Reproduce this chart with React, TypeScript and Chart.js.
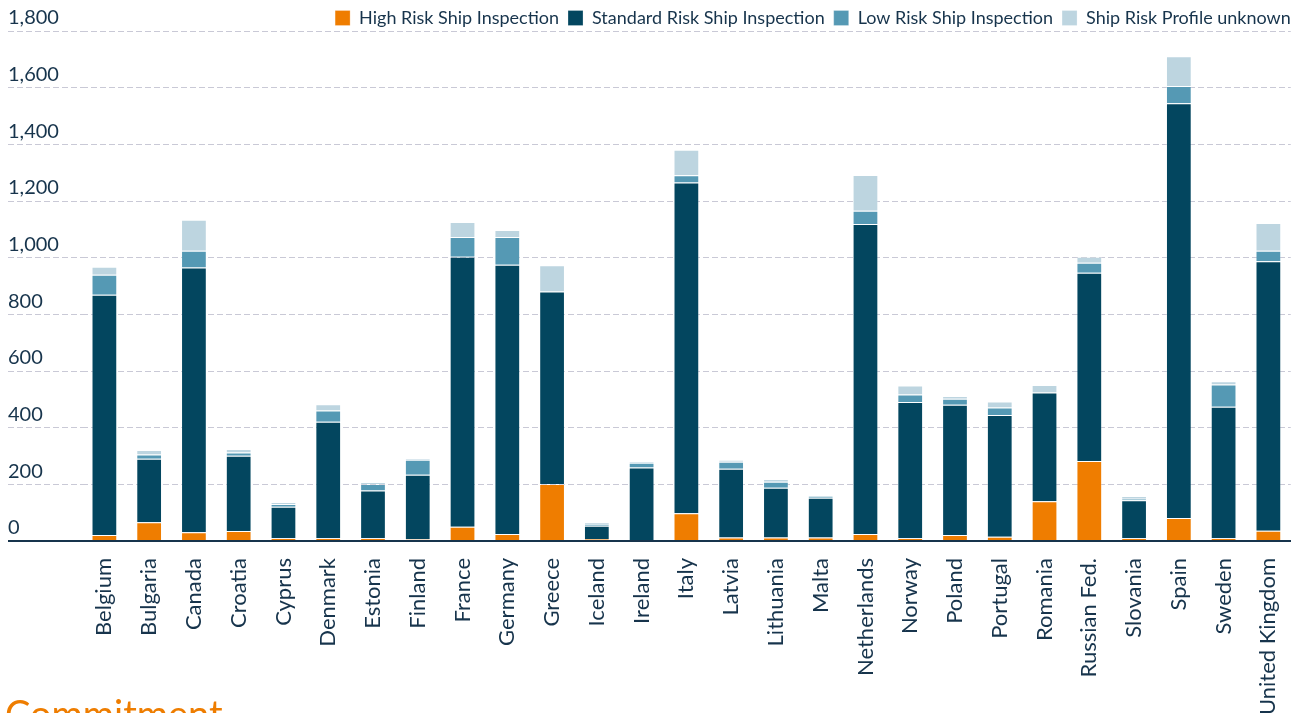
import React, { useEffect, useRef } from "react";
import { Chart, registerables } from "chart.js";

Chart.register(...registerables);

const categories = [
  "Belgium", "Bulgaria", "Canada", "Croatia", "Cyprus", "Denmark", "Estonia", "Finland",
  "France", "Germany", "Greece", "Iceland", "Ireland", "Italy", "Latvia", "Lithuania",
  "Malta", "Netherlands", "Norway", "Poland", "Portugal", "Romania", "Russian Fed.",
  "Slovania", "Spain", "Sweden", "United Kingdom",
];

const highRisk = [21, 66, 31, 35, 10, 10, 10, 6, 50, 25, 201, 7, 0, 98, 12, 12, 12, 25, 10, 21, 15, 140, 282, 10, 81, 10, 36];
const standardRisk = [848, 224, 934, 266, 111, 411, 168, 228, 953, 950, 680, 47, 259, 1167, 243, 176, 141, 1094, 481, 460, 430, 384, 665, 134, 1464, 464, 951];
const lowRisk = [71, 15, 59, 11, 10, 40, 23, 53, 70, 98, 0, 6, 17, 26, 25, 21, 6, 47, 26, 21, 26, 0, 35, 5, 61, 78, 37];
const unknownRisk = [28, 16, 110, 13, 7, 22, 7, 5, 53, 25, 92, 6, 5, 90, 6, 10, 0, 126, 32, 10, 21, 27, 21, 10, 105, 12, 98];

const seriesNames = [
  "High Risk Ship Inspection",
  "Standard Risk Ship Inspection",
  "Low Risk Ship Inspection",
  "Ship Risk Profile unknown",
];
const seriesColors = ["#EF7D00", "#03465F", "#5599B4", "#BDD5E0"];

const yMin = 0;
const yMax = 1800;
const yStep = 200;

const TEXT_DARK = "#17344C";
const GRID = "#C9C9D6";
const LEGEND_HEIGHT = 31;
const LEGEND_ITEM_TOP = 9;

const legendFix = {
  id: "legendFix",
  beforeInit(chart: any) {
    const legend = chart.legend;
    if (!legend) return;
    const fit = legend.fit;
    legend.fit = function () {
      fit.call(this);
      this.height = LEGEND_HEIGHT;
    };
  },
  afterLayout(chart: any) {
    const legend = chart.legend;
    if (!legend) return;
    const p = legend.options.labels.padding;
    legend.top = LEGEND_ITEM_TOP - p;
    legend.right = chart.chartArea.right + p;
  },
};

export default function App() {
  const ref = useRef<HTMLCanvasElement | null>(null);

  useEffect(() => {
    if (!ref.current) return;
    const data = [highRisk, standardRisk, lowRisk, unknownRisk];
    const chart = new Chart(ref.current, {
      type: "bar",
      data: {
        labels: categories,
        datasets: data.map((d, i) => ({
          label: seriesNames[i],
          data: d,
          backgroundColor: seriesColors[i],
          borderColor: "rgba(255,255,255,0.25)",
          borderWidth: 1,
          barPercentage: 0.575,
          categoryPercentage: 1,
        })),
      },
      options: {
        responsive: false,
        animation: false,
        layout: { padding: { left: 8, right: 12, top: 0, bottom: 0 } },
        plugins: {
          tooltip: { enabled: false },
          legend: {
            display: true,
            position: "top",
            align: "end",
            labels: {
              boxWidth: 15,
              boxHeight: 15,
              padding: 9,
              color: TEXT_DARK,
              font: { family: "Lato", size: 18 },
            },
          },
        },
        scales: {
          x: {
            stacked: true,
            grid: { display: false },
            border: { display: true, color: TEXT_DARK, width: 2 },
            ticks: {
              color: TEXT_DARK,
              font: { family: "Lato", size: 22 },
              minRotation: 90,
              maxRotation: 90,
              autoSkip: false,
              padding: 9,
            },
            afterFit(scale: any) {
              scale.height = 172;
            },
          },
          y: {
            stacked: true,
            min: yMin,
            max: yMax,
            border: {
              display: false,
              dash: (ctx: any) => (ctx.tick && ctx.tick.value === 0 ? [] : [6, 3]),
            },
            grid: {
              color: (ctx: any) => (ctx.tick && ctx.tick.value === 0 ? TEXT_DARK : GRID),
              lineWidth: (ctx: any) => (ctx.tick && ctx.tick.value === 0 ? 2 : 1),
              drawTicks: true,
              tickLength: 74,
              tickColor: (ctx: any) => (ctx.tick && ctx.tick.value === 0 ? TEXT_DARK : GRID),
              tickWidth: (ctx: any) => (ctx.tick && ctx.tick.value === 0 ? 2 : 1),
              tickBorderDash: (ctx: any) => (ctx.tick && ctx.tick.value === 0 ? [] : [6, 3]),
            },
            ticks: {
              stepSize: yStep,
              color: TEXT_DARK,
              font: { family: "Lato", size: 20 },
              crossAlign: "far",
              padding: 0,
              labelOffset: -13,
              callback: (v: any) => Number(v).toLocaleString("en-US"),
            },
            afterFit(scale: any) {
              scale.width = 74;
            },
          },
        },
      },
      plugins: [legendFix],
    } as any);
    return () => chart.destroy();
  }, []);

  return (
    <div style={{ position: "absolute", left: 0, top: 0, width: 1304, height: 713, overflow: "hidden", background: "#fff" }}>
      <canvas ref={ref} width={1304} height={713} style={{ display: "block" }} />
      <div
        style={{
          position: "absolute",
          left: 5,
          top: 694,
          fontFamily: "Lato",
          fontSize: 38,
          lineHeight: "38px",
          color: "#EE7D00",
          whiteSpace: "nowrap",
        }}
      >
        Commitment
      </div>
    </div>
  );
}
